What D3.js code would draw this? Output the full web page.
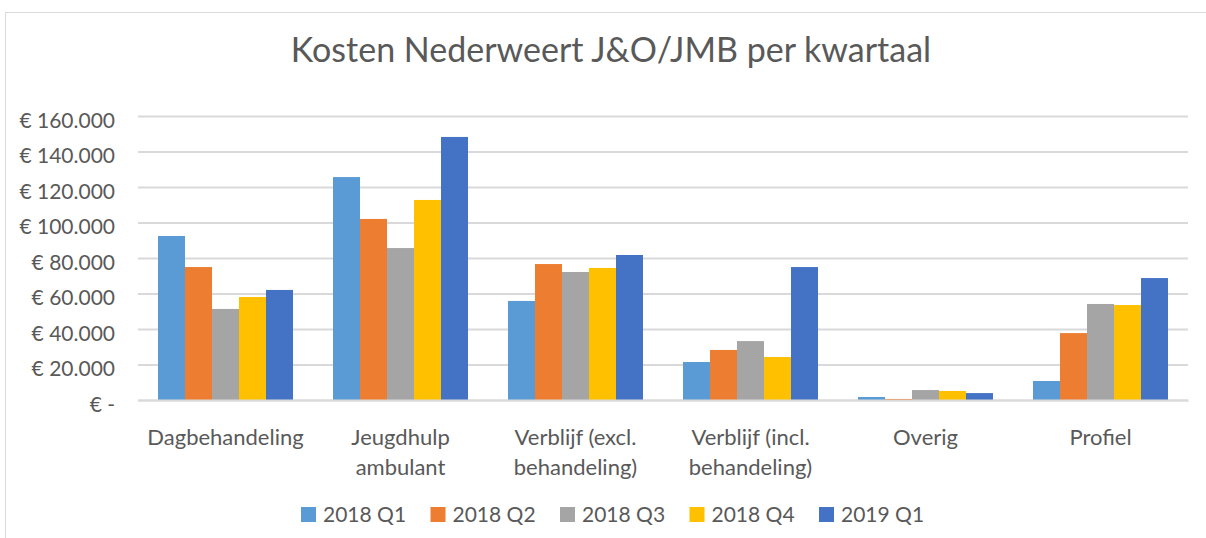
<!DOCTYPE html>
<html>
<head>
<meta charset="utf-8">
<script src="https://cdn.jsdelivr.net/npm/d3@7"></script>
<style>
  html, body { margin: 0; padding: 0; background: #fff; }
  svg { display: block; }
  text { font-family: Lato, "Open Sans", sans-serif; fill: #595959; }
</style>
</head>
<body>
<svg id="chart" width="1206" height="538"></svg>
<script>
const title = "Kosten Nederweert J&O/JMB per kwartaal";
const categories = ["Dagbehandeling", "Jeugdhulp\nambulant", "Verblijf (excl.\nbehandeling)", "Verblijf (incl.\nbehandeling)", "Overig", "Profiel"];
const seriesNames = ["2018 Q1", "2018 Q2", "2018 Q3", "2018 Q4", "2019 Q1"];
const q1_2018 = [92400, 125600, 55800, 21400, 1700, 10700];
const q2_2018 = [74900, 102000, 76600, 28200, 600, 37700];
const q3_2018 = [51300, 85600, 72100, 33200, 5600, 54100];
const q4_2018 = [58000, 112700, 74400, 24200, 5100, 53500];
const q1_2019 = [62000, 148200, 81700, 74900, 3900, 68700];
const colors = ["#5B9BD5", "#ED7D31", "#A5A5A5", "#FFC000", "#4472C4"];
const yTicks = [0, 20000, 40000, 60000, 80000, 100000, 120000, 140000, 160000];

const seriesValues = [q1_2018, q2_2018, q3_2018, q4_2018, q1_2019];

const svg = d3.select("#chart");

// chart border
svg.append("path")
  .attr("d", "M5.5,538 V12.5 H1206")
  .attr("fill", "none").attr("stroke", "#D9D9D9").attr("stroke-width", 1);

// title
svg.append("text")
  .attr("x", 611).attr("y", 62)
  .attr("text-anchor", "middle")
  .style("font-size", "34px")
  .text(title);

const x = d3.scaleBand()
  .domain(categories)
  .range([138, 1188])
  .paddingInner(0.2286)
  .paddingOuter(0.1143);

const xs = d3.scaleBand()
  .domain(seriesNames)
  .range([0, x.bandwidth()])
  .padding(0);

const y = d3.scaleLinear().domain([0, 160000]).range([400, 116]);

const fmt = v => v === 0 ? "€ -" : "€ " + d3.format(",")(v).replace(/,/g, ".");

// gridlines + y labels via axis
const yAxis = d3.axisLeft(y).tickValues(yTicks).tickSize(-(1188 - 138)).tickFormat(fmt).tickPadding(23);
const gy = svg.append("g").attr("transform", "translate(138,0)").call(yAxis);
gy.select(".domain").remove();
gy.selectAll(".tick line").attr("stroke", "#D9D9D9").attr("stroke-width", 2);
gy.selectAll(".tick text")
  .attr("dy", "0.72em").attr("y", -4)
  .style("font-size", "21px").style("font-family", "Lato, sans-serif").attr("fill", "#595959");

// bars
const groups = svg.append("g").selectAll("g")
  .data(categories)
  .join("g")
  .attr("transform", d => `translate(${x(d)},0)`);

groups.selectAll("rect")
  .data((c, i) => seriesNames.map((s, j) => ({ s, v: seriesValues[j][i], j })))
  .join("rect")
  .attr("x", d => xs(d.s))
  .attr("width", xs.bandwidth())
  .attr("y", d => y(d.v))
  .attr("height", d => y(0) - y(d.v))
  .attr("fill", d => colors[d.j]);

// category axis
const xAxis = d3.axisBottom(x).tickSize(0).tickFormat("");
const gx = svg.append("g").attr("transform", "translate(0,400)").call(xAxis);
gx.select(".domain").attr("stroke", "#D9D9D9").attr("stroke-width", 2);
gx.selectAll(".tick").each(function(d) {
  const t = d3.select(this).append("text")
    .attr("text-anchor", "middle")
    .style("font-size", "22px")
    .attr("fill", "#595959");
  d.split("\n").forEach((line, k) => {
    t.append("tspan").attr("x", 0).attr("y", 45 + k * 30).text(line);
  });
});

// legend
const legend = svg.append("g");
const lg = legend.selectAll("g")
  .data(seriesNames)
  .join("g")
  .attr("transform", (d, i) => `translate(${301 + i * 129.5},507)`);
lg.append("rect").attr("width", 15).attr("height", 15).attr("fill", (d, i) => colors[i]);
lg.append("text").attr("x", 22).attr("y", 15).style("font-size", "21px").text(d => d);
</script>
</body>
</html>
